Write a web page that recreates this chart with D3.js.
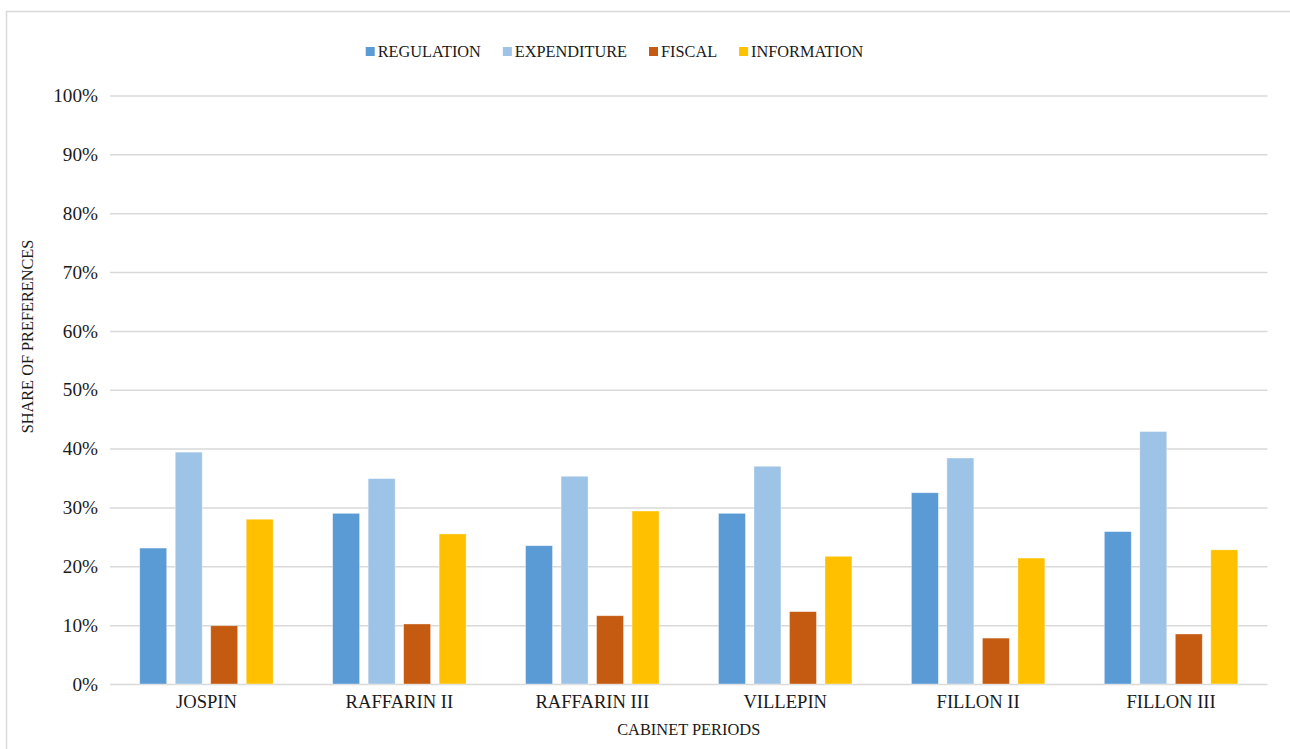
<!DOCTYPE html>
<html>
<head>
<meta charset="utf-8">
<script src="https://cdn.jsdelivr.net/npm/d3@7"></script>
<style>
  html, body { margin: 0; padding: 0; background: #fff; }
  svg { display: block; font-family: "Liberation Serif", "Times New Roman", serif; }
</style>
</head>
<body>
<svg id="chart" width="1290" height="749"></svg>
<script>
// Cabinet periods on the x axis
const cabinets = ["JOSPIN", "RAFFARIN II", "RAFFARIN III", "VILLEPIN", "FILLON II", "FILLON III"];

// Instrument types (series)
const instruments = ["REGULATION", "EXPENDITURE", "FISCAL", "INFORMATION"];
const instrumentColors = ["#5B9BD5", "#9DC3E6", "#C55A11", "#FFC000"];

// Share of preferences per cabinet, one array per instrument
const regulation  = [0.231, 0.290, 0.235, 0.290, 0.325, 0.259];
const expenditure = [0.394, 0.349, 0.353, 0.370, 0.384, 0.429];
const fiscal      = [0.099, 0.102, 0.116, 0.123, 0.078, 0.085];
const information = [0.280, 0.255, 0.294, 0.217, 0.214, 0.228];

// Y axis ticks
const yTicks = [0, 0.1, 0.2, 0.3, 0.4, 0.5, 0.6, 0.7, 0.8, 0.9, 1.0];

const seriesValues = [regulation, expenditure, fiscal, information];
const rows = cabinets.map((c, i) => ({
  cabinet: c,
  values: instruments.map((s, k) => ({ key: s, value: seriesValues[k][i] }))
}));

const svg = d3.select("#chart");
const plot = { left: 110, right: 1267.5, top: 95.5, bottom: 684 };
const textColor = "#1a1a1a";

// Outer frame of the chart area
svg.append("rect")
  .attr("x", 6.5).attr("y", 11.5)
  .attr("width", 1400).attr("height", 900)
  .attr("fill", "none").attr("stroke", "#d9d9d9").attr("stroke-width", 1.5);

const y = d3.scaleLinear().domain([0, 1]).range([plot.bottom, plot.top]);
const x0 = d3.scaleBand().domain(cabinets).range([plot.left, plot.right])
  .paddingInner(0.264).paddingOuter(0.132);
const x1 = d3.scaleBand().domain(instruments).range([0, x0.bandwidth()])
  .paddingInner(0.24).paddingOuter(0.12);
const color = d3.scaleOrdinal().domain(instruments).range(instrumentColors);

// Horizontal gridlines and tick labels
const yAxis = d3.axisLeft(y)
  .tickValues(yTicks)
  .tickSize(-(plot.right - plot.left))
  .tickPadding(12)
  .tickFormat(d3.format(".0%"));

const gy = svg.append("g")
  .attr("transform", `translate(${plot.left},0)`)
  .call(yAxis);
gy.select(".domain").remove();
gy.selectAll(".tick line").attr("stroke", "#d9d9d9").attr("stroke-width", 1.5);
gy.selectAll(".tick text")
  .attr("font-size", 19.2)
  .attr("fill", textColor)
  .attr("font-family", "Liberation Serif, Times New Roman, serif");

// Bars
const groups = svg.append("g").selectAll("g")
  .data(rows).join("g")
  .attr("transform", d => `translate(${x0(d.cabinet)},0)`);

groups.selectAll("rect")
  .data(d => d.values).join("rect")
  .attr("x", d => x1(d.key))
  .attr("width", x1.bandwidth())
  .attr("y", d => y(d.value))
  .attr("height", d => y(0) - y(d.value))
  .attr("fill", d => color(d.key))
  .attr("stroke", "#ffffff")
  .attr("stroke-opacity", 0.5)
  .attr("stroke-width", 0.75);

// Category labels
const xAxis = d3.axisBottom(x0).tickSize(0).tickPadding(0);
const gx = svg.append("g")
  .attr("transform", `translate(0,${plot.bottom})`)
  .call(xAxis);
gx.select(".domain").remove();
gx.selectAll(".tick text")
  .attr("font-size", 18.6)
  .attr("fill", textColor)
  .attr("font-family", "Liberation Serif, Times New Roman, serif")
  .attr("dy", null)
  .attr("y", 24);

// Axis titles
svg.append("text")
  .attr("x", (plot.left + plot.right) / 2)
  .attr("y", 735)
  .attr("text-anchor", "middle")
  .attr("font-size", 16.4)
  .attr("fill", textColor)
  .text("CABINET PERIODS");

svg.append("text")
  .attr("transform", "translate(32.5,336.5) rotate(-90)")
  .attr("text-anchor", "middle")
  .attr("font-size", 16.3)
  .attr("fill", textColor)
  .text("SHARE OF PREFERENCES");

// Legend
const legend = svg.append("g");
let cursor = 0;
instruments.forEach((s) => {
  const item = legend.append("g").attr("transform", `translate(${cursor},0)`);
  item.append("rect")
    .attr("x", 0).attr("y", -9.5)
    .attr("width", 9).attr("height", 9)
    .attr("fill", color(s));
  const t = item.append("text")
    .attr("x", 12).attr("y", 0)
    .attr("font-size", 16.3)
    .attr("fill", textColor)
    .text(s);
  cursor += 12 + t.node().getComputedTextLength() + 22;
});
const legendWidth = cursor - 22;
legend.attr("transform", `translate(${614.5 - legendWidth / 2},56.5)`);
</script>
</body>
</html>
